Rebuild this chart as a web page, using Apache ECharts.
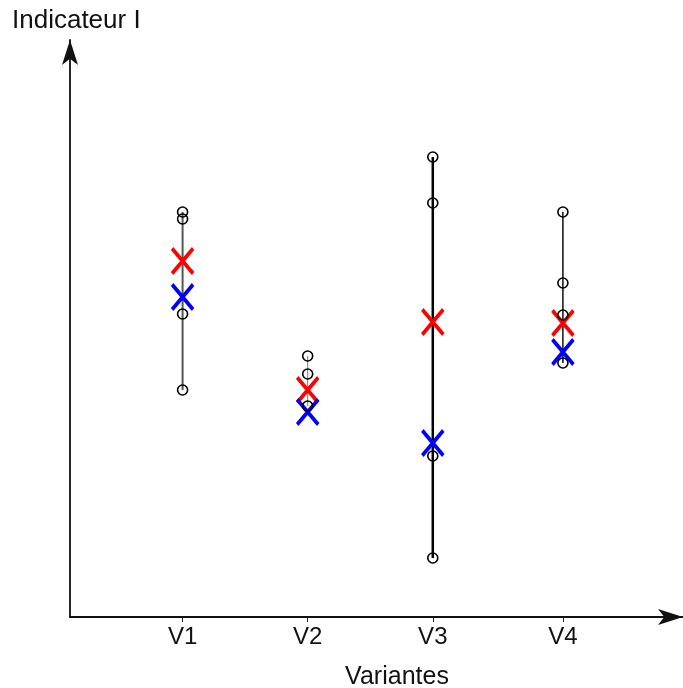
<!DOCTYPE html>
<html>
<head>
<meta charset="utf-8">
<script src="https://cdn.jsdelivr.net/npm/echarts@6/dist/echarts.min.js"></script>
<style>
html,body{margin:0;padding:0;background:#fff;}
#chart{width:683px;height:688px;}
</style>
</head>
<body>
<div id="chart"></div>
<script>
// ---- data (y in arbitrary units of the unlabelled axis) ----
const categories = ['V1', 'V2', 'V3', 'V4'];
const categoryPositions = [1, 2, 3, 4.04];
const observationsV1 = [40.5, 39.8, 30.3, 22.7];
const observationsV2 = [26.1, 24.3, 21.1];
const observationsV3 = [46.0, 41.4, 16.1, 5.9];
const observationsV4 = [40.5, 33.4, 30.2, 25.4];
const redMarks = [35.6, 22.7, 29.5, 29.4];
const blueMarks = [32.0, 20.5, 17.4, 26.5];

const observations = [observationsV1, observationsV2, observationsV3, observationsV4];
const rangeStyles = [
  { color: '#555', width: 2 },
  { color: '#777', width: 1 },
  { color: '#000', width: 2.5 },
  { color: '#111', width: 1.5 }
];

const FONT = '"Liberation Sans", Arial, sans-serif';
const X_PATH = 'path://M0,0L21,25M21,0L0,25';

const series = [];
observations.forEach((obs, i) => {
  const x = categoryPositions[i];
  series.push({
    type: 'line',
    data: [[x, Math.min(...obs)], [x, Math.max(...obs)]],
    symbol: 'none',
    lineStyle: rangeStyles[i],
    z: 1,
    silent: true
  });
});
series.push({
  type: 'scatter',
  data: redMarks.map((v, i) => [categoryPositions[i], v]),
  symbol: X_PATH,
  symbolSize: [21, 25],
  itemStyle: { color: 'none', borderColor: '#ff0000', borderWidth: 3.8, opacity: 1 },
  z: 2
});
series.push({
  type: 'scatter',
  data: blueMarks.map((v, i) => [categoryPositions[i], v]),
  symbol: X_PATH,
  symbolSize: [21, 25],
  itemStyle: { color: 'none', borderColor: '#0000ff', borderWidth: 3.8, opacity: 1 },
  z: 3
});
const circleData = [];
observations.forEach((obs, i) => obs.forEach(v => circleData.push([categoryPositions[i], v])));
series.push({
  type: 'scatter',
  data: circleData,
  symbol: 'circle',
  symbolSize: 10,
  itemStyle: { color: 'rgba(0,0,0,0)', borderColor: '#000', borderWidth: 1.6, opacity: 1 },
  z: 4
});

const chart = echarts.init(document.getElementById('chart'));
chart.setOption({
  animation: false,
  backgroundColor: '#fff',
  grid: { left: 70, right: 0, top: 40, bottom: 71, containLabel: false },
  xAxis: {
    type: 'value',
    min: 0.1,
    max: 5.0,
    splitLine: { show: false },
    axisLine: {
      show: true,
      lineStyle: { color: '#111', width: 1.8 },
      symbol: ['none', 'arrow'],
      symbolSize: [12, 25]
    },
    axisTick: {
      show: true,
      customValues: categoryPositions,
      length: 5,
      lineStyle: { color: '#222', width: 1 }
    },
    axisLabel: {
      customValues: categoryPositions,
      formatter: (v) => {
        const idx = categoryPositions.findIndex(p => Math.abs(p - v) < 1e-6);
        return idx >= 0 ? categories[idx] : '';
      },
      margin: 8,
      fontSize: 24,
      color: '#111',
      fontFamily: FONT
    }
  },
  yAxis: {
    type: 'value',
    min: 0,
    max: 57.7,
    splitLine: { show: false },
    axisTick: { show: false },
    axisLabel: { show: false },
    axisLine: {
      show: true,
      lineStyle: { color: '#111', width: 1.8 },
      symbol: ['none', 'arrow'],
      symbolSize: [12, 25]
    }
  },
  graphic: [
    {
      type: 'text',
      left: 12,
      top: 8,
      style: { text: 'Indicateur I', fontSize: 26, fill: '#111', fontFamily: FONT }
    },
    {
      type: 'text',
      x: 397,
      y: 677,
      style: { text: 'Variantes', fontSize: 25, fill: '#111', fontFamily: FONT, align: 'center', verticalAlign: 'middle' }
    }
  ],
  series: series
});
</script>
</body>
</html>
